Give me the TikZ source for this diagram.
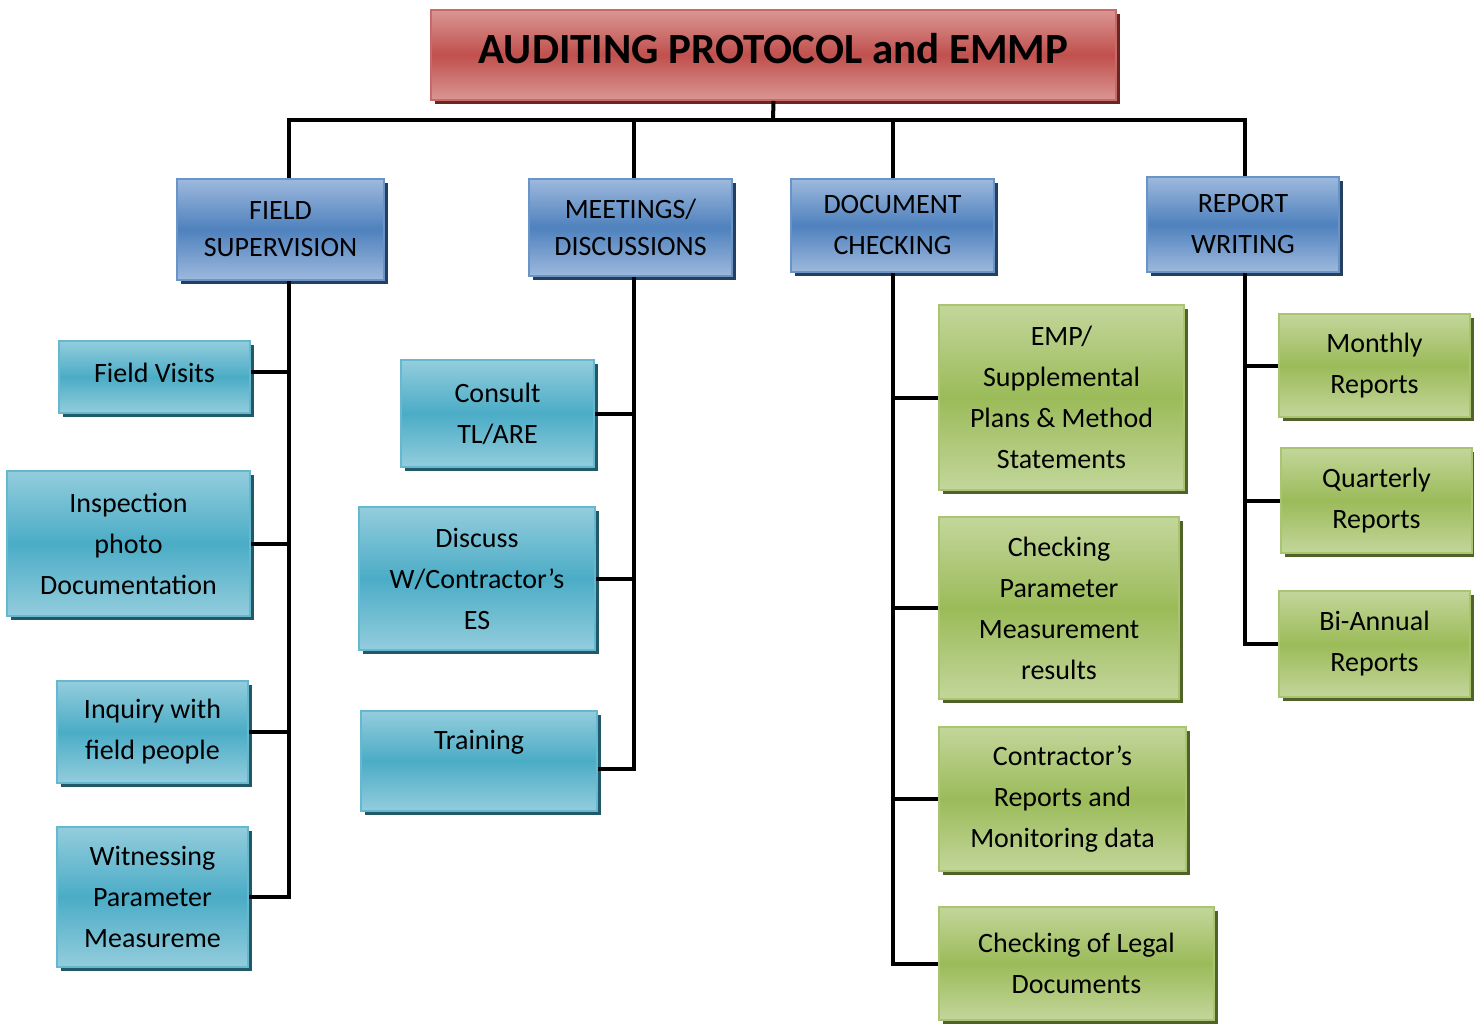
\documentclass[tikz,border=0pt]{standalone}
\usepackage{fontspec}
\setmainfont{Carlito}
\usetikzlibrary{shadows}
\definecolor{redL}{HTML}{DA9694}
\definecolor{redM}{HTML}{C0504D}
\definecolor{redS}{HTML}{6B2523}
\definecolor{bluL}{HTML}{9DB9DD}
\definecolor{bluM}{HTML}{4F81BD}
\definecolor{bluS}{HTML}{243F60}
\definecolor{teaL}{HTML}{93CDDD}
\definecolor{teaM}{HTML}{4BACC6}
\definecolor{teaS}{HTML}{215968}
\definecolor{grnL}{HTML}{C3D69B}
\definecolor{grnM}{HTML}{9BBB59}
\definecolor{grnS}{HTML}{4F6228}
\tikzset{
  boxbase/.style={rectangle, inner sep=0pt, align=center, line width=2pt,
    font=\fontsize{28}{41}\selectfont},
  redbox/.style={boxbase, draw=redM!85!white, top color=redL, bottom color=redL, middle color=redM,
    general shadow={fill=redS, shadow xshift=4pt, shadow yshift=-4pt}},
  bluebox/.style={boxbase, draw=bluM!85!white, top color=bluL, bottom color=bluL, middle color=bluM,
    general shadow={fill=bluS, shadow xshift=4pt, shadow yshift=-4pt}},
  tealbox/.style={boxbase, draw=teaM!85!white, top color=teaL, bottom color=teaL, middle color=teaM,
    general shadow={fill=teaS, shadow xshift=4pt, shadow yshift=-4pt}},
  greenbox/.style={boxbase, draw=grnM!85!white, top color=grnL, bottom color=grnL, middle color=grnM,
    general shadow={fill=grnS, shadow xshift=4pt, shadow yshift=-4pt}},
  wire/.style={draw=black, line width=4pt},
}
\begin{document}
\begin{tikzpicture}[x=1pt, y=-1pt]
\useasboundingbox (0,0) rectangle (1474,1024);
% title
\node[redbox, minimum width=685pt, minimum height=90pt, text height=29pt, text depth=12pt, font=\fontsize{43}{48}\selectfont\bfseries] (title) at (773.5,55) {AUDITING PROTOCOL and EMMP};
% level 1
\node[bluebox, minimum width=207pt, minimum height=101pt, font=\fontsize{28}{37}\selectfont] (fs) at (280.5,229.5) {FIELD\\SUPERVISION};
\node[bluebox, minimum width=203pt, minimum height=97pt, font=\fontsize{28}{37}\selectfont] (md) at (630.5,227.5) {MEETINGS/\\DISCUSSIONS};
\node[bluebox, minimum width=203pt, minimum height=93pt] (dc) at (892.5,225.5) {DOCUMENT\\CHECKING};
\node[bluebox, minimum width=192pt, minimum height=95pt] (rw) at (1243,224.5) {REPORT\\WRITING};
% field supervision children
\node[tealbox, minimum width=191pt, minimum height=72pt, text height=20pt, text depth=10pt] (fv) at (154.5,377) {Field Visits};
\node[tealbox, minimum width=243pt, minimum height=145pt] (ip) at (128.5,543.5) {Inspection\\photo\\Documentation};
\node[tealbox, minimum width=191pt, minimum height=102pt] (iq) at (152.5,732) {Inquiry with\\field people};
\node[tealbox, minimum width=191pt, minimum height=140pt] (wp) at (152.5,897) {Witnessing\\Parameter\\Measureme};
% meetings children
\node[tealbox, minimum width=193pt, minimum height=107pt] (ct) at (497.5,413.5) {Consult\\TL/ARE};
\node[tealbox, minimum width=236pt, minimum height=143pt] (dw) at (477,578.5) {Discuss\\W/Contractor’s\\ES};
\node[tealbox, minimum width=236pt, minimum height=100pt] (tr) at (479,761) {Training\\[-12pt]\strut};
% document checking children
\node[greenbox, minimum width=245pt, minimum height=185pt] (emp) at (1061.5,397.5) {EMP/\\Supplemental\\Plans \& Method\\Statements};
\node[greenbox, minimum width=240pt, minimum height=182pt] (cp) at (1059,608) {Checking\\Parameter\\Measurement\\results};
\node[greenbox, minimum width=247pt, minimum height=144pt] (cr) at (1062.5,799) {Contractor’s\\Reports and\\Monitoring data};
\node[greenbox, minimum width=275pt, minimum height=113pt] (cl) at (1076.5,963.5) {Checking of Legal\\Documents};
% report writing children
\node[greenbox, minimum width=191pt, minimum height=103pt] (mr) at (1374.5,365.5) {Monthly\\Reports};
\node[greenbox, minimum width=191pt, minimum height=105pt] (qr) at (1376.5,500.5) {Quarterly\\Reports};
\node[greenbox, minimum width=191pt, minimum height=106pt] (br) at (1374.5,644) {Bi-Annual\\Reports};
% junction coordinates
\coordinate (bar) at (773,120);
\coordinate (j1) at (289,120);
\coordinate (j2) at (634,120);
\coordinate (j3) at (893,120);
\coordinate (j4) at (1245,120);
% connectors
\draw[wire] (title.south) -- (bar);
\draw[wire] (j1 |- fs.north) -- (j1) -- (j4) -- (j4 |- rw.north);
\draw[wire] (j2) -- (j2 |- md.north);
\draw[wire] (j3) -- (j3 |- dc.north);
% field supervision trunk
\draw[wire] (j1 |- fs.south) -- (j1 |- wp.east) -- (wp.east);
\draw[wire] ([yshift=5pt]fv.east) -- ([yshift=5pt]fv.east -| j1);
\draw[wire] (ip.east) -- (ip.east -| j1);
\draw[wire] (iq.east) -- (iq.east -| j1);
% meetings trunk
\draw[wire] (j2 |- md.south) -- ([yshift=-8pt]j2 |- tr.east) -- ([yshift=-8pt]tr.east);
\draw[wire] (ct.east) -- (ct.east -| j2);
\draw[wire] (dw.east) -- (dw.east -| j2);
% document trunk
\draw[wire] (j3 |- dc.south) -- (j3 |- cl.west) -- (cl.west);
\draw[wire] (emp.west) -- (emp.west -| j3);
\draw[wire] (cp.west) -- (cp.west -| j3);
\draw[wire] (cr.west) -- (cr.west -| j3);
% report trunk
\draw[wire] (j4 |- rw.south) -- (j4 |- br.west) -- (br.west);
\draw[wire] (mr.west) -- (mr.west -| j4);
\draw[wire] (qr.west) -- (qr.west -| j4);
\end{tikzpicture}
\end{document}
